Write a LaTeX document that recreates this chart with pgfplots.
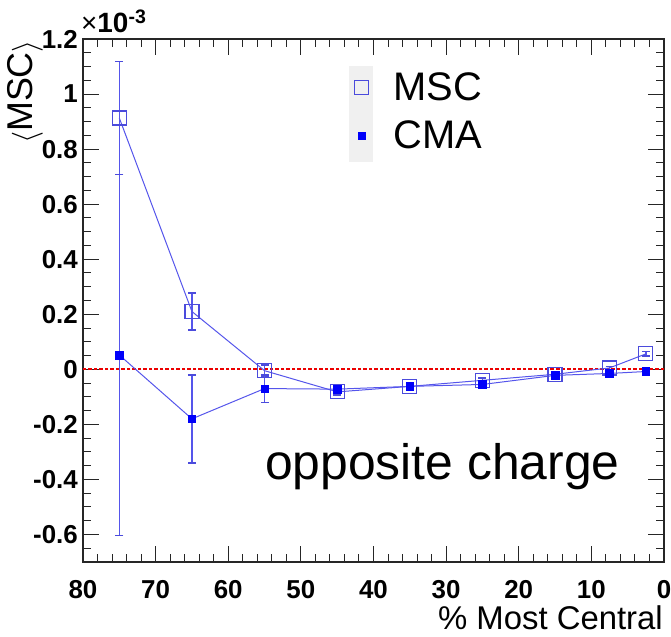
\documentclass[border=0pt]{standalone}
\usepackage{graphicx}
\usepackage{pgfplots}
\usepackage{pgfplotstable}
\pgfplotsset{compat=1.18}
\usepackage{fontspec}
\setmainfont{Liberation Sans}
\definecolor{msc}{RGB}{75,75,220}
\definecolor{cma}{RGB}{0,0,250}
\definecolor{lineblue}{RGB}{85,85,235}
\definecolor{zeroline}{RGB}{235,0,0}

\pgfplotstableread{
x y e
75 0.913 0.205
65 0.210 0.067
55 -0.005 0.020
45 -0.082 0.012
35 -0.062 0.010
25 -0.040 0.008
15 -0.018 0.006
7.5 0.005 0.006
2.5 0.056 0.008
}\msctable

\pgfplotstableread{
x y e
75 0.052 0.655
65 -0.180 0.160
55 -0.070 0.050
45 -0.072 0.015
35 -0.062 0.010
25 -0.055 0.008
15 -0.022 0.006
7.5 -0.015 0.005
2.5 -0.008 0.005
}\cmatable

\begin{document}
\begin{tikzpicture}
\fill[black!6] (349bp,475bp) rectangle (373bp,571bp);
\begin{axis}[
  at={(83bp,75bp)}, anchor=south west,
  width=581bp, height=523bp, scale only axis,
  xmin=0, xmax=80, ymin=-0.7, ymax=1.2,
  x dir=reverse,
  xtick={0,10,20,30,40,50,60,70,80},
  xticklabels={0,10,20,30,40,50,60,70,80},
  minor xtick={2,4,...,78},
  ytick={-0.6,-0.4,-0.2,0,0.2,0.4,0.6,0.8,1.0,1.2},
  yticklabels={-0.6,-0.4,-0.2,0,0.2,0.4,0.6,0.8,1,1.2},
  minor ytick={-0.65,-0.55,-0.5,-0.45,-0.35,-0.3,-0.25,-0.15,-0.1,-0.05,0.05,0.1,0.15,0.25,0.3,0.35,0.45,0.5,0.55,0.65,0.7,0.75,0.85,0.9,0.95,1.05,1.1,1.15},
  tick align=inside,
  major tick length=16bp, minor tick length=8bp,
  every tick/.style={line width=1bp, black!85},
  axis line style={line width=1.3bp, black!85},
  ticklabel style={font=\fontsize{26}{26}\selectfont\bfseries},
  xticklabel style={inner sep=0pt, yshift=-18bp},
  yticklabel style={inner sep=0pt, xshift=-5bp},
  legend style={at={(0.458,0.94)}, anchor=north west, draw=none, fill=none,
    inner sep=0pt, font=\fontsize{40}{40}\selectfont, row sep=15bp,
    column sep=17bp, nodes={inner sep=2bp}},
  legend cell align=left,
  legend image code/.code={\path[#1] plot coordinates {(12bp,0bp)}; \path (0bp,0bp) (24bp,0bp);},
  clip=false,
]
\addplot[draw=zeroline, line width=1.8bp, dash pattern=on 3.5bp off 2bp, mark=none, forget plot] coordinates {(0,0) (80,0)};

\addplot[color=lineblue, line width=1bp, mark=square, mark size=7bp,
  mark options={draw=msc, line width=1.2bp, solid},
  error bars/.cd, y dir=both, y explicit,
  error bar style={draw=lineblue, color=lineblue, line width=1.5bp},
  error mark options={rotate=90, mark size=4bp, draw=msc, color=msc, line width=1.4bp}]
  table[x=x, y=y, y error=e] {\msctable};

\addplot[color=lineblue, line width=1bp, mark=square*, mark size=3.8bp,
  mark options={draw=cma, fill=cma, line width=0.5bp, solid},
  error bars/.cd, y dir=both, y explicit,
  error bar style={draw=lineblue, color=lineblue, line width=1.5bp},
  error mark options={rotate=90, mark size=4bp, draw=msc, color=msc, line width=1.4bp}]
  table[x=x, y=y, y error=e] {\cmatable};

\legend{MSC, CMA}
\end{axis}
\node[anchor=base west, font=\fontsize{28}{28}\selectfont\bfseries, inner sep=0pt] at (81bp,604bp) {{\mdseries ×}10\textsuperscript{-3}};
\node[rotate=90, font=\fontsize{36}{36}\selectfont, inner sep=0pt] at (25bp,545bp) {\raisebox{-0.08em}{\scalebox{1.25}{$\langle$}}MSC\raisebox{-0.08em}{\scalebox{1.25}{$\rangle$}}};
\node[anchor=base west, font=\fontsize{50}{50}\selectfont, inner sep=0pt] at (265bp,157bp) {opposite charge};
\node[anchor=base east, font=\fontsize{33}{33}\selectfont, inner sep=0pt] at (663bp,8bp) {\% Most Central};
\pgfresetboundingbox
\path[use as bounding box] (0,0) rectangle (671bp,637bp);
\end{tikzpicture}
\end{document}
